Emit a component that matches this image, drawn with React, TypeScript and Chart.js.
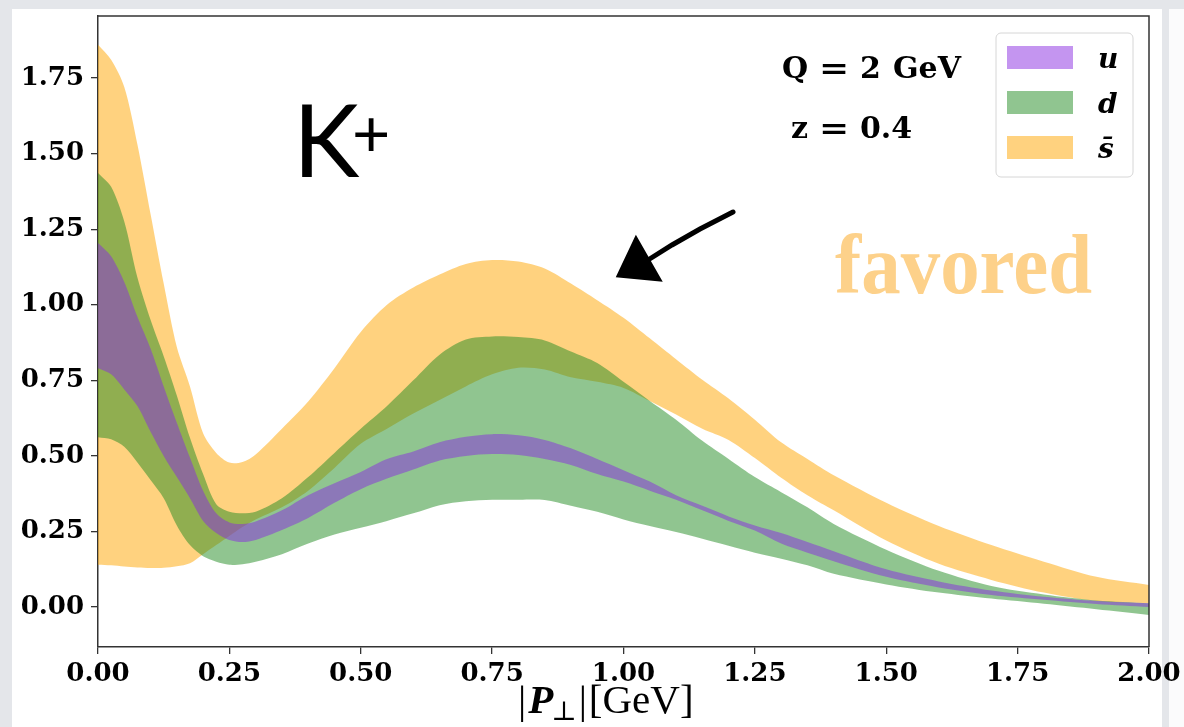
import React, { useEffect, useRef } from "react";
import { Chart, registerables } from "chart.js";

Chart.register(...registerables);

// |P_perp| sample positions (GeV)
const xValues = [
  0, 0.025, 0.05, 0.075, 0.1, 0.125, 0.15, 0.175, 0.2, 0.225, 0.25, 0.275, 0.3,
  0.35, 0.4, 0.45, 0.5, 0.55, 0.6, 0.65, 0.7, 0.75, 0.8, 0.85, 0.9, 0.95, 1.0,
  1.05, 1.1, 1.15, 1.2, 1.25, 1.3, 1.35, 1.4,
  1.5, 1.6, 1.7, 1.8, 1.9, 2.0,
];

// u band
const uUpper = [
  1.204, 1.16, 1.075, 0.96, 0.855, 0.73, 0.61, 0.495, 0.385, 0.31, 0.28, 0.275, 0.283,
  0.32, 0.37, 0.41, 0.447, 0.49, 0.515, 0.545, 0.563, 0.572, 0.568, 0.553, 0.525, 0.49, 0.453,
  0.415, 0.37, 0.335, 0.3, 0.27, 0.245, 0.215, 0.185,
  0.125, 0.085, 0.055, 0.034, 0.02, 0.013,
];
const uLower = [
  0.79, 0.77, 0.72, 0.665, 0.58, 0.5, 0.43, 0.36, 0.285, 0.245, 0.222, 0.215, 0.222,
  0.255, 0.295, 0.345, 0.39, 0.425, 0.455, 0.485, 0.5, 0.506, 0.503, 0.49, 0.47, 0.44, 0.415,
  0.385, 0.355, 0.32, 0.285, 0.253, 0.21, 0.18, 0.152,
  0.1, 0.065, 0.04, 0.024, 0.01, 0.0,
];

// d band
const dUpper = [
  1.436, 1.39, 1.275, 1.09, 0.95, 0.83, 0.7, 0.56, 0.44, 0.34, 0.315, 0.31, 0.315,
  0.36, 0.43, 0.51, 0.59, 0.665, 0.75, 0.835, 0.885, 0.895, 0.893, 0.882, 0.845, 0.807, 0.745,
  0.682, 0.62, 0.55, 0.49, 0.43, 0.38, 0.33, 0.275,
  0.19, 0.12, 0.07, 0.042, 0.022, 0.013,
];
const dLower = [
  0.562, 0.555, 0.53, 0.478, 0.42, 0.36, 0.27, 0.205, 0.168, 0.15, 0.14, 0.142, 0.15,
  0.175, 0.21, 0.24, 0.262, 0.285, 0.31, 0.337, 0.35, 0.355, 0.355, 0.354, 0.335, 0.315, 0.29,
  0.268, 0.248, 0.226, 0.203, 0.18, 0.16, 0.138, 0.11,
  0.075, 0.048, 0.028, 0.011, -0.007, -0.026,
];

// s-bar band
const sUpper = [
  1.86, 1.81, 1.72, 1.53, 1.3, 1.07, 0.86, 0.73, 0.575, 0.51, 0.478, 0.48, 0.505,
  0.59, 0.68, 0.79, 0.91, 1.0, 1.057, 1.1, 1.135, 1.148, 1.143, 1.12, 1.07, 1.015, 0.957,
  0.889, 0.82, 0.752, 0.69, 0.62, 0.545, 0.49, 0.436,
  0.345, 0.268, 0.205, 0.15, 0.1, 0.073,
];
const sLower = [
  0.14, 0.138, 0.134, 0.131, 0.129, 0.13, 0.135, 0.145, 0.175, 0.205, 0.235, 0.265, 0.29,
  0.33, 0.385, 0.46, 0.54, 0.59, 0.64, 0.685, 0.73, 0.77, 0.792, 0.786, 0.76, 0.745, 0.725,
  0.682, 0.637, 0.59, 0.553, 0.493, 0.428, 0.37, 0.32,
  0.22, 0.143, 0.09, 0.048, 0.02, 0.013,
];

const xTicks = [0, 0.25, 0.5, 0.75, 1.0, 1.25, 1.5, 1.75, 2.0];
const yTicks = [0, 0.25, 0.5, 0.75, 1.0, 1.25, 1.5, 1.75];

const seriesNames = ["u", "d", "s\u0304"];
const seriesColors = [
  "rgba(138,43,226,0.5)",
  "rgba(34,139,34,0.5)",
  "rgba(255,165,0,0.5)",
];
const annotationTitle = "K";
const annotationSup = "+";
const favoredLabel = "favored";

const decorPlugin = {
  id: "decor",
  afterDraw(chart: any) {
    const ctx = chart.ctx as CanvasRenderingContext2D;
    const a = chart.chartArea;
    ctx.save();

    // top & right spines
    ctx.strokeStyle = "#333";
    ctx.lineWidth = 1.5;
    ctx.beginPath();
    ctx.moveTo(a.left, a.top);
    ctx.lineTo(a.right, a.top);
    ctx.lineTo(a.right, a.bottom);
    ctx.stroke();

    // K+
    ctx.fillStyle = "#000";
    ctx.textBaseline = "alphabetic";
    ctx.textAlign = "left";
    ctx.font = "400 100px Lato";
    ctx.fillText(annotationTitle, 293, 177);
    ctx.font = "400 66px Lato";
    ctx.textBaseline = "middle";
    ctx.fillText(annotationSup, 352, 136);

    // Q and z labels (mathtext-like spacing)
    ctx.textBaseline = "alphabetic";
    ctx.font = "bold 30px 'DejaVu Serif'";
    const drawEq = (x0: number, y0: number) => {
      ctx.save();
      ctx.translate(x0, y0);
      ctx.scale(1.2, 1);
      ctx.fillText("=", 0, 0);
      ctx.restore();
    };
    ctx.fillText("Q", 782, 78);
    drawEq(819, 78);
    ctx.fillText("2", 860, 78);
    ctx.fillText("GeV", 893, 78);
    ctx.fillText("z", 791, 138);
    drawEq(819, 138);
    ctx.fillText("0.4", 860, 138);

    // legend box
    const lx = 996, ly = 33, lw = 137, lh = 144, r = 5;
    ctx.beginPath();
    ctx.moveTo(lx + r, ly);
    ctx.lineTo(lx + lw - r, ly);
    ctx.arcTo(lx + lw, ly, lx + lw, ly + r, r);
    ctx.lineTo(lx + lw, ly + lh - r);
    ctx.arcTo(lx + lw, ly + lh, lx + lw - r, ly + lh, r);
    ctx.lineTo(lx + r, ly + lh);
    ctx.arcTo(lx, ly + lh, lx, ly + lh - r, r);
    ctx.lineTo(lx, ly + r);
    ctx.arcTo(lx, ly, lx + r, ly, r);
    ctx.closePath();
    ctx.fillStyle = "rgba(255,255,255,0.85)";
    ctx.fill();
    ctx.strokeStyle = "#d6d6d6";
    ctx.lineWidth = 1;
    ctx.stroke();
    ctx.font = "italic bold 28px 'DejaVu Serif'";
    ctx.textBaseline = "alphabetic";
    seriesNames.forEach((name, i) => {
      const y = 46 + i * 45;
      ctx.fillStyle = seriesColors[i];
      ctx.fillRect(1007, y, 66, 23);
      ctx.fillStyle = "#000";
      ctx.fillText(name, 1098, y + 22);
    });

    // favored
    ctx.fillStyle = "#fdd18a";
    ctx.font = "bold 84px 'Liberation Serif'";
    const fw = ctx.measureText(favoredLabel).width;
    ctx.save();
    ctx.translate(835, 293);
    ctx.scale(257 / fw, 1);
    ctx.fillText(favoredLabel, 0, 0);
    ctx.restore();

    // hand-drawn arrow
    ctx.strokeStyle = "#000";
    ctx.fillStyle = "#000";
    ctx.lineCap = "round";
    ctx.lineWidth = 5;
    ctx.beginPath();
    ctx.moveTo(733, 212);
    ctx.lineTo(700, 229);
    ctx.lineTo(672, 245);
    ctx.lineTo(648, 260);
    ctx.stroke();
    ctx.beginPath();
    ctx.moveTo(636, 238);
    ctx.lineTo(618, 276);
    ctx.lineTo(660, 280);
    ctx.closePath();
    ctx.fill();
    ctx.lineWidth = 3;
    ctx.stroke();

    // x-axis title |P_perp|[GeV]
    ctx.fillStyle = "#000";
    ctx.textBaseline = "alphabetic";
    let x = 518;
    const base = 713;
    ctx.font = "41px 'Liberation Serif'";
    ctx.fillText("|", x, base);
    x += ctx.measureText("|").width + 2;
    ctx.font = "italic bold 41px 'Liberation Serif'";
    ctx.fillText("P", x, base);
    x += ctx.measureText("P").width - 2;
    ctx.font = "27px 'DejaVu Serif'";
    ctx.fillText("\u22a5", x, base + 7);
    x += ctx.measureText("\u22a5").width + 2;
    ctx.font = "41px 'Liberation Serif'";
    ctx.fillText("|", x, base);
    x += ctx.measureText("|").width + 2;
    ctx.fillText("[GeV]", x, base);

    ctx.restore();
  },
};

export default function App() {
  const ref = useRef<HTMLCanvasElement>(null);

  useEffect(() => {
    const canvas = ref.current;
    if (!canvas) return;
    const mk = (arr: number[]) => xValues.map((x, i) => ({ x, y: arr[i] }));
    const band = (name: string, upper: number[], lower: number[], color: string) => [
      {
        label: name,
        data: mk(upper),
        borderWidth: 1,
        borderColor: "rgba(0,0,0,0)",
        backgroundColor: color,
        pointRadius: 0,
        fill: "+1",
        tension: 0.3,
      },
      {
        label: name + " lower",
        data: mk(lower),
        borderWidth: 1,
        borderColor: "rgba(0,0,0,0)",
        backgroundColor: "rgba(0,0,0,0)",
        pointRadius: 0,
        fill: false,
        tension: 0.3,
      },
    ];

    const tickFont = { family: "'DejaVu Serif'", weight: "bold", size: 26 };

    const chart = new Chart(canvas, {
      type: "line",
      data: {
        datasets: [
          ...band(seriesNames[0], uUpper, uLower, seriesColors[0]),
          ...band(seriesNames[1], dUpper, dLower, seriesColors[1]),
          ...band(seriesNames[2], sUpper, sLower, seriesColors[2]),
        ] as any,
      },
      options: {
        responsive: false,
        animation: false,
        devicePixelRatio: 1,
        layout: { padding: { left: 0, top: 16, right: 35, bottom: 0 } },
        plugins: {
          legend: { display: false },
          tooltip: { enabled: false },
        },
        scales: {
          x: {
            type: "linear",
            min: 0,
            max: 2,
            afterBuildTicks: (s: any) => {
              s.ticks = xTicks.map((v) => ({ value: v }));
            },
            afterFit: (s: any) => {
              s.height = 80;
              s.paddingLeft = 0;
              s.paddingRight = 0;
            },
            ticks: {
              callback: (v: any) => Number(v).toFixed(2),
              font: tickFont as any,
              color: "#000",
              padding: 5,
              maxRotation: 0,
              autoSkip: false,
            },
            grid: {
              drawOnChartArea: false,
              drawTicks: true,
              tickLength: 7,
              color: "#333",
              lineWidth: 1.3,
            },
            border: { display: true, color: "#333", width: 1.5 },
          },
          y: {
            type: "linear",
            min: -0.132,
            max: 1.955,
            afterBuildTicks: (s: any) => {
              s.ticks = yTicks.map((v) => ({ value: v }));
            },
            afterFit: (s: any) => {
              s.width = 98;
              s.paddingTop = 0;
              s.paddingBottom = 0;
            },
            ticks: {
              callback: (v: any) => Number(v).toFixed(2),
              font: tickFont as any,
              color: "#000",
              padding: 7,
              autoSkip: false,
            },
            grid: {
              drawOnChartArea: false,
              drawTicks: true,
              tickLength: 7,
              color: "#333",
              lineWidth: 1.3,
            },
            border: { display: true, color: "#333", width: 1.5 },
          },
        },
      } as any,
      plugins: [decorPlugin],
    });

    return () => chart.destroy();
  }, []);

  return (
    <div
      style={{
        position: "fixed",
        left: 0,
        top: 0,
        width: 1184,
        height: 727,
        background: "#e4e6ea",
        overflow: "hidden",
      }}
    >
      <div
        style={{
          position: "absolute",
          left: 12,
          top: 9,
          width: 1150,
          height: 718,
          background: "#ffffff",
        }}
      />
      <div
        style={{
          position: "absolute",
          left: 1169,
          top: 9,
          width: 15,
          height: 718,
          background: "#fbfbfc",
        }}
      />
      <canvas
        ref={ref}
        width={1184}
        height={727}
        style={{ position: "absolute", left: 0, top: 0, width: 1184, height: 727 }}
      />
    </div>
  );
}
